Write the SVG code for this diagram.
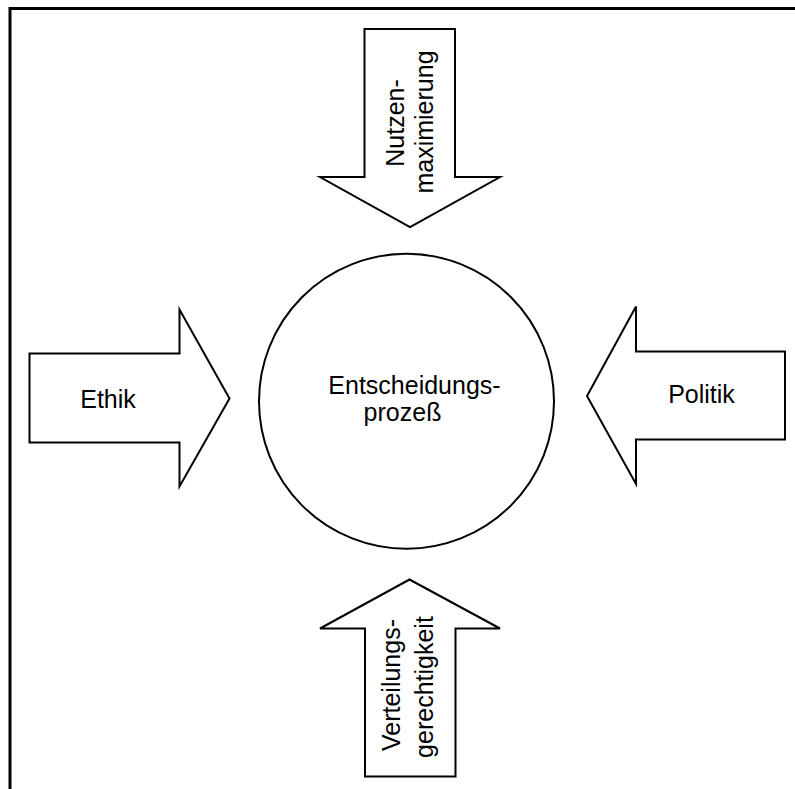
<svg xmlns="http://www.w3.org/2000/svg" width="795" height="789" viewBox="0 0 795 789">
  <style>
    .shape { fill: #ffffff; stroke: #000000; stroke-width: 2; stroke-linejoin: miter; }
    .frame { fill: none; stroke: #000000; stroke-width: 3; }
    .label { font-family: "Liberation Sans", Arial, sans-serif; font-size: 25px; fill: #000000; text-anchor: middle; }
  </style>
  <rect x="0" y="0" width="795" height="789" fill="#ffffff"/>
  <!-- outer frame, open to the right and bottom edges -->
  <rect class="frame" x="10" y="8.5" width="820" height="820"/>

  <g id="connectors">
    <!-- arrow from the top -->
    <g id="arrow-nutzen">
      <polygon class="shape" points="364.5,29 455,29 455,177 500,177 410,227 320,177 364.5,177"/>
      <text class="label" transform="translate(404,123) rotate(-90)">Nutzen-</text>
      <text class="label" transform="translate(433,122) rotate(-90)">maximierung</text>
    </g>
    <!-- arrow from the left -->
    <g id="arrow-ethik">
      <polygon class="shape" points="29.5,353.5 179.5,353.5 179.5,309.5 229.5,398.5 179.5,486.5 179.5,442.5 29.5,442.5"/>
      <text class="label" x="108" y="408">Ethik</text>
    </g>
    <!-- arrow from the right -->
    <g id="arrow-politik">
      <polygon class="shape" points="785,351.5 636,351.5 636,306.5 587,396 636,484 636,439.5 785,439.5"/>
      <text class="label" x="701.5" y="403">Politik</text>
    </g>
    <!-- arrow from the bottom -->
    <g id="arrow-verteilung">
      <polygon class="shape" points="365,776.5 455.5,776.5 455.5,628.5 500,628.5 409.5,579.5 320,628.5 365,628.5"/>
      <text class="label" transform="translate(400,685) rotate(-90)">Verteilungs-</text>
      <text class="label" transform="translate(432.5,687) rotate(-90)">gerechtigkeit</text>
    </g>
  </g>

  <g id="node-entscheidung">
    <circle class="shape" cx="406.5" cy="401.3" r="147.5"/>
    <text class="label" x="414.5" y="394">Entscheidungs-</text>
    <text class="label" x="402.5" y="421">prozeß</text>
  </g>
</svg>
